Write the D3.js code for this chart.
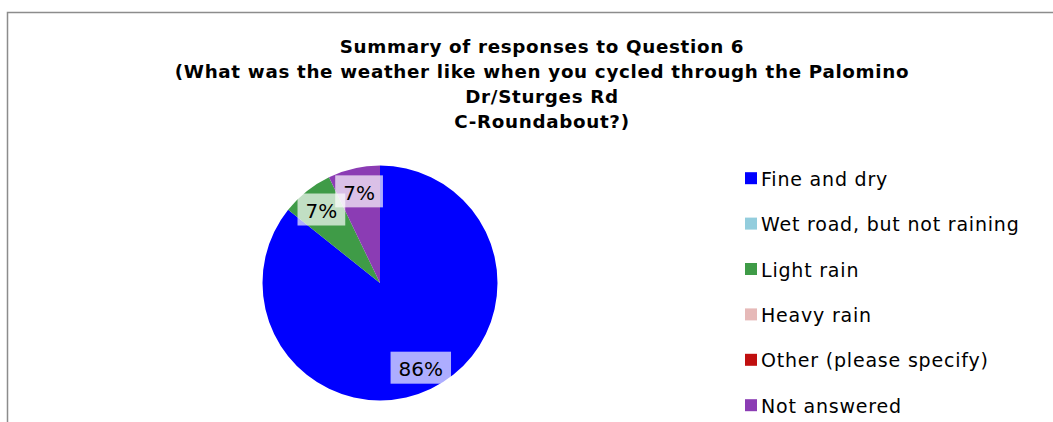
<!DOCTYPE html>
<html><head><meta charset="utf-8">
<script src="https://cdn.jsdelivr.net/npm/d3@7"></script>
<style>body{margin:0;background:#fff}svg{display:block}</style>
</head><body><svg id="c" width="1053" height="422"></svg>
<script>
const categories = ["Fine and dry","Wet road, but not raining","Light rain","Heavy rain","Other (please specify)","Not answered"];
const counts = [12, 0, 1, 0, 0, 1];
const colors = ["#0000ff","#93cddd","#3f9b47","#e6b9b8","#c00f0f","#8b3cb4"];
const titleLines = ["Summary of responses to Question 6","(What was the weather like when you cycled through the Palomino","Dr/Sturges Rd","C-Roundabout?)"];

const svg = d3.select("#c");
const font = "'DejaVu Sans', Verdana, sans-serif";

svg.append("rect").attr("x",7.5).attr("y",12.5).attr("width",1100).attr("height",500)
  .attr("fill","#fff").attr("stroke","#8c8c8c").attr("stroke-width",1.5);

const title = svg.append("text").attr("text-anchor","middle").attr("font-family",font)
  .attr("font-weight","bold").attr("font-size",18.3).attr("letter-spacing","0.68px").attr("fill","#000");
titleLines.forEach((t,i)=>title.append("tspan").attr("x",542).attr("y",52.5+i*25).text(t));

const cx = 380, cy = 283, r = 117.5;
const pie = d3.pie().sort(null).value(d=>d)(counts);
const arc = d3.arc().innerRadius(0).outerRadius(r);
const g = svg.append("g").attr("transform",`translate(${cx},${cy})`);
g.selectAll("path").data(pie).join("path").attr("d",arc).attr("fill",(d,i)=>colors[i]);

const total = d3.sum(counts);
const lab = d3.arc().innerRadius(r*0.8).outerRadius(r*0.8);
const labs = g.selectAll("g.l").data(pie.filter(d=>d.value>0)).join("g").attr("class","l")
  .attr("transform",d=>`translate(${lab.centroid(d)})`);
labs.each(function(d){
  const s = d3.select(this);
  const txt = Math.round(d.value/total*100)+"%";
  const t = s.append("text").attr("text-anchor","middle").attr("y",8.5)
    .attr("font-family",font).attr("font-size",20).attr("fill","#000").text(txt);
  const bb = t.node().getBBox();
  s.insert("rect","text").attr("x",bb.x-8).attr("y",-16).attr("width",bb.width+16).attr("height",32)
    .attr("fill","rgba(255,255,255,0.68)");
});

const leg = svg.append("g");
categories.forEach((c,i)=>{
  const y = 185.7 + i*45.4;
  leg.append("rect").attr("x",745).attr("y",y-13.5).attr("width",12).attr("height",12).attr("fill",colors[i]);
  leg.append("text").attr("x",761).attr("y",y).attr("font-family",font).attr("letter-spacing","0.8px")
    .attr("font-size",19).attr("fill","#000").text(c);
});
</script></body></html>
